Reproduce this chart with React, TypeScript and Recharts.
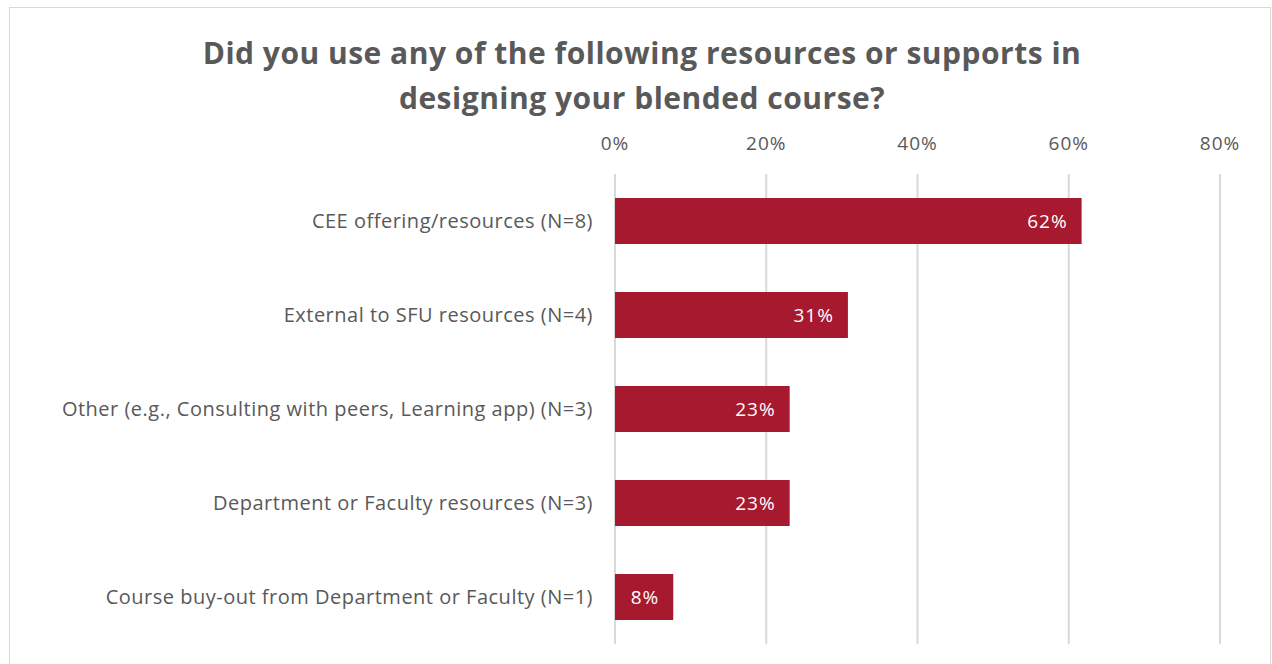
import { BarChart, Bar, XAxis, YAxis, CartesianGrid, LabelList } from "recharts";

const CATEGORIES = [
  "CEE offering/resources (N=8)",
  "External to SFU resources (N=4)",
  "Other (e.g., Consulting with peers, Learning app) (N=3)",
  "Department or Faculty resources (N=3)",
  "Course buy-out from Department or Faculty (N=1)",
];
const SHARE = [61.7, 30.8, 23.1, 23.1, 7.7];
const X_TICKS = [0, 20, 40, 60, 80];
const TITLE_LINES = [
  "Did you use any of the following resources or supports in",
  "designing your blended course?",
];

const data = CATEGORIES.map((name, i) => ({ name, value: SHARE[i] }));

const FONT = "'Open Sans', Lato, sans-serif";
const GREY = "#595959";

export default function App() {
  return (
    <div
      style={{
        position: "absolute",
        left: 0,
        top: 0,
        width: 1272,
        height: 664,
        overflow: "hidden",
        background: "#fff",
        fontFamily: FONT,
      }}
    >
      <div
        style={{
          position: "absolute",
          left: 9,
          top: 7,
          width: 1260,
          height: 700,
          border: "1px solid #d9d9d9",
        }}
      />
      <div
        style={{
          position: "absolute",
          left: 0,
          top: 30,
          width: 1284,
          textAlign: "center",
          color: GREY,
          fontWeight: 700,
          fontSize: 30,
          letterSpacing: 0.5,
          lineHeight: "45px",
        }}
      >
        {TITLE_LINES.map((t) => (
          <div key={t}>{t}</div>
        ))}
      </div>
      <div style={{ position: "absolute", left: 0, top: 0 }}>
        <BarChart
          width={1272}
          height={664}
          data={data}
          layout="vertical"
          margin={{ top: 120, right: 52, bottom: 20, left: 0 }}
          barSize={46}
        >
          <CartesianGrid horizontal={false} stroke="#d9d9d9" strokeWidth={2} />
          <XAxis
            type="number"
            orientation="top"
            domain={[0, 80]}
            ticks={X_TICKS}
            tickFormatter={(v) => `${v}%`}
            axisLine={false}
            tickLine={false}
            tickSize={0}
            tickMargin={24}
            height={54}
            tick={{ fill: GREY, fontSize: 19, fontFamily: FONT, letterSpacing: 1 }}
          />
          <YAxis
            type="category"
            dataKey="name"
            width={615}
            axisLine={false}
            tickLine={false}
            tickSize={0}
            tickMargin={22}
            tick={{ fill: GREY, fontSize: 20, fontFamily: FONT, letterSpacing: 0.5 }}
          />
          <Bar dataKey="value" fill="#A6192E" isAnimationActive={false}>
            <LabelList
              dataKey="value"
              position="insideRight"
              offset={14}
              fill="#fff"
              fontSize={19}
              fontFamily={FONT}
              letterSpacing={1}
              formatter={(v: number) => `${Math.round(v)}%`}
            />
          </Bar>
        </BarChart>
      </div>
    </div>
  );
}
